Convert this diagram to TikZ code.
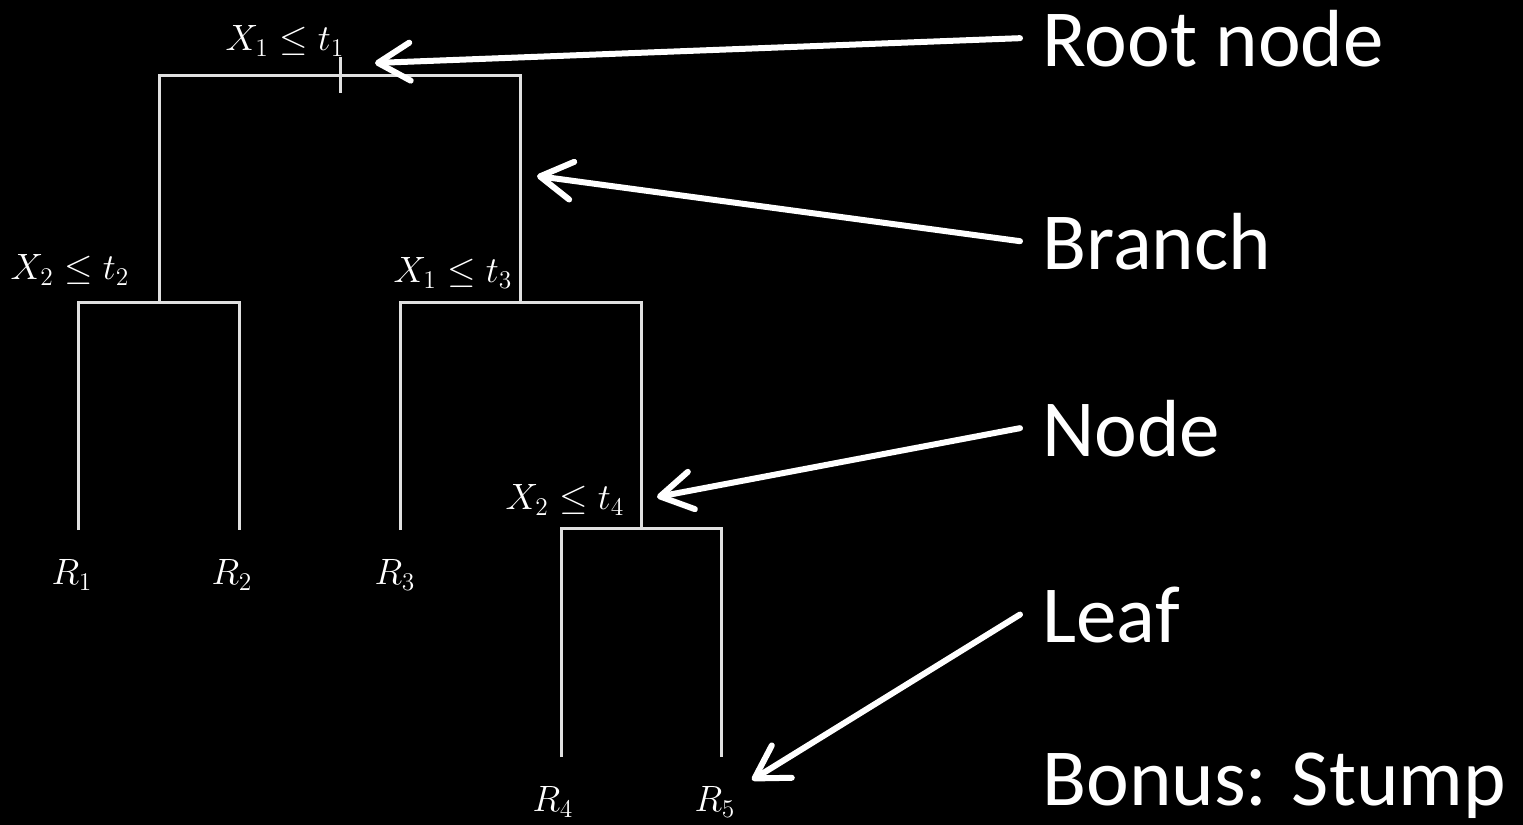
\documentclass[tikz,border=0pt]{standalone}
\usepackage{fontspec}
\newfontfamily\notefont{Carlito}
\usetikzlibrary{arrows.meta}
\definecolor{treegray}{gray}{0.88}
\newcommand{\mlabel}[1]{\scalebox{1.06}{$#1$}}

\begin{document}
\begin{tikzpicture}[x=0.5pt,y=-0.5pt,
  edge/.style={draw=treegray, line width=1.5pt},
  callout/.style={draw=white, line width=3pt, line cap=round,
    -{Straight Barb[length=16pt,width=19pt,round]}},
  split/.style={text=white, inner sep=0pt, font=\LARGE},
  region/.style={text=white, inner sep=0pt, font=\LARGE},
  note/.style={text=white, inner xsep=11pt, inner ysep=0pt,
    font=\notefont\fontsize{40.5}{48}\selectfont}]

  % page and background
  \fill[black] (0,0) rectangle (1523,825);
  \useasboundingbox (0,0) rectangle (1523,825);

  % split points of the tree
  \coordinate (root) at (340,75);
  \coordinate (C) at (159,302);
  \coordinate (D) at (520,302);
  \coordinate (E) at (641,528);
  % leaf ends
  \coordinate (L1) at (78,530);
  \coordinate (L2) at (239,530);
  \coordinate (L3) at (400,530);
  \coordinate (L4) at (561,757);
  \coordinate (L5) at (721,757);
  % root tick mark
  \coordinate (tickTop) at (340,57);
  \coordinate (tickBot) at (340,93);

  % tree edges
  \draw[edge] (C) |- (root) -| (D);
  \draw[edge] (L1) |- (C) -| (L2);
  \draw[edge] (L3) |- (D) -| (E);
  \draw[edge] (L4) |- (E) -| (L5);
  \draw[edge] (tickTop) -- (tickBot);

  % split rules
  \node[split] (s1) at (285,41) {\mlabel{X_1 \leq t_1}};
  \node[split] (s2) at (70,270) {\mlabel{X_2 \leq t_2}};
  \node[split] (s3) at (453,273) {\mlabel{X_1 \leq t_3}};
  \node[split] (s4) at (565,500) {\mlabel{X_2 \leq t_4}};

  % terminal regions
  \node[region] (R1) at (72,575) {\mlabel{R_1}};
  \node[region] (R2) at (232,575) {\mlabel{R_2}};
  \node[region] (R3) at (395,575) {\mlabel{R_3}};
  \node[region] (R4) at (553,802) {\mlabel{R_4}};
  \node[region] (R5) at (715,802) {\mlabel{R_5}};

  % vocabulary
  \node[note, anchor=base west] (nRoot) at (1020,66) {Root node};
  \node[note, anchor=base west] (nBranch) at (1020,269) {Branch};
  \node[note, anchor=base west] (nNode) at (1020,456) {Node};
  \node[note, anchor=base west] (nLeaf) at (1020,642) {Leaf};
  \node[note, anchor=base west] (nStump) at (1020,805) {Bonus: Stump};

  % arrow tips
  \coordinate (tRoot) at (375,63);
  \coordinate (tBranch) at (537,176);
  \coordinate (tNode) at (657,497);
  \coordinate (tLeaf) at (752,780);

  \draw[callout] (nRoot.west) -- (tRoot);
  \draw[callout] (nBranch.west) -- (tBranch);
  \draw[callout] (nNode.west) -- (tNode);
  \draw[callout] (nLeaf.west) -- (tLeaf);
\end{tikzpicture}
\end{document}
